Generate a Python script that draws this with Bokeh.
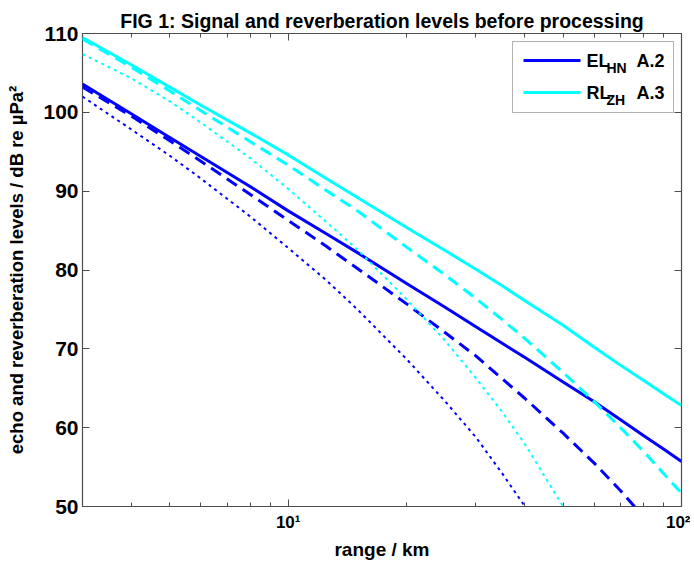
from bokeh.plotting import figure
from bokeh.models import Range1d, FixedTicker, LogAxis, LinearAxis, Label, BoxAnnotation
from bokeh.embed import file_html
from bokeh.resources import INLINE

# ---- data ----
range_km = [3, 4, 5, 6, 8, 10, 12.5, 15, 20, 25, 30, 35, 40, 50, 60, 70, 80, 90, 100]
el_solid = [103.6, 99.8, 96.8, 94.4, 90.6, 87.5, 84.6, 82.2, 78.3, 75.3, 72.8, 70.7, 68.9,
            65.8, 63.3, 61.0, 59.0, 57.3, 55.7]
el_dashed = [103.2, 99.5, 96.4, 93.8, 89.6, 86.3, 83.0, 80.2, 75.7, 72.1, 69.1, 66.2, 63.7,
             59.3, 55.5, 52.0, 48.7]
el_dotted = [102.0, 97.8, 94.5, 91.6, 86.8, 82.8, 78.7, 75.0, 68.7, 63.4, 58.8, 54.2, 50.0]
rl_solid = [109.5, 106.0, 103.2, 100.9, 97.4, 94.6, 91.6, 89.2, 85.4, 82.5, 80.1, 78.0, 76.1,
            73.0, 70.2, 67.9, 66.0, 64.3, 62.8]
rl_dashed = [109.3, 105.7, 102.7, 100.2, 96.3, 93.3, 90.1, 87.5, 82.9, 79.4, 76.4, 73.7, 71.3,
             67.0, 63.3, 60.0, 57.0, 54.2, 51.7]
rl_dotted = [107.4, 104.3, 101.4, 98.7, 94.2, 90.3, 86.1, 82.6, 76.3, 71.1, 66.3, 62.0, 57.9, 50.0]

x_major = [10, 100]
x_minor = [4, 5, 6, 7, 8, 9, 20, 30, 40, 50, 60, 70, 80, 90]
y_ticks = [50, 60, 70, 80, 90, 100, 110]
x_labels = {10: "10\u00b9", 100: "10\u00b2"}

BLUE = "#0000ff"
CYAN = "#00ffff"
FONT = "Liberation Sans"
AXC = "#4d4d4d"

p = figure(width=690, height=562, x_axis_type="log",
           x_range=Range1d(3, 100), y_range=Range1d(50, 110),
           output_backend="svg", toolbar_location=None,
           min_border_left=82, min_border_right=9, min_border_top=33, min_border_bottom=55)
p.background_fill_color = "white"
p.border_fill_color = "white"
p.outline_line_color = AXC
p.outline_line_width = 1.2
p.grid.visible = False

p.title.text = "FIG 1: Signal and reverberation levels before processing"
p.title.text_font = FONT
p.title.text_font_size = "19.5px"
p.title.text_font_style = "bold"
p.title.text_color = "black"
p.title.align = "center"
p.title.standoff = 4

def style_axis(ax, size="21px"):
    ax.axis_line_color = None
    ax.major_tick_line_color = AXC
    ax.minor_tick_line_color = AXC
    ax.major_tick_in = 7
    ax.major_tick_out = 0
    ax.minor_tick_in = 4
    ax.minor_tick_out = 0
    ax.major_label_text_font = FONT
    ax.major_label_text_font_style = "bold"
    ax.major_label_text_color = "black"
    ax.axis_label_text_font = FONT
    ax.axis_label_text_font_style = "bold"
    ax.axis_label_text_color = "black"
    ax.axis_label_text_font_size = "19px"
    if size:
        ax.major_label_text_font_size = size
    else:
        ax.major_label_text_font_size = "1px"
        ax.major_label_text_alpha = 0
        ax.major_label_standoff = 0

xa = p.xaxis[0]
xa.ticker = FixedTicker(ticks=x_major, minor_ticks=x_minor)
xa.major_label_overrides = x_labels
xa.axis_label = "range / km"
style_axis(xa, "17px")
xa.major_label_standoff = 6
xa.axis_label_standoff = 4

ya = p.yaxis[0]
ya.ticker = FixedTicker(ticks=y_ticks, minor_ticks=[])
ya.axis_label = "echo and reverberation levels / dB re \u00b5Pa\u00b2"
style_axis(ya, "21px")
ya.axis_label_text_font_size = "18.5px"
ya.major_label_standoff = 4
ya.axis_label_standoff = 13

top = LogAxis(ticker=FixedTicker(ticks=x_major, minor_ticks=x_minor))
style_axis(top, None)
p.add_layout(top, "above")
right = LinearAxis(ticker=FixedTicker(ticks=y_ticks, minor_ticks=[]))
style_axis(right, None)
p.add_layout(right, "right")

# ---- curves ----
def draw(xs, ys, color, width, dash="solid"):
    p.line(xs[:len(ys)], ys, line_color=color, line_width=width, line_dash=dash,
           line_join="round")

draw(range_km, el_solid, BLUE, 3)
draw(range_km, el_dashed, BLUE, 3, "12 7")
draw(range_km, el_dotted, BLUE, 2, "3 4")
draw(range_km, rl_solid, CYAN, 3)
draw(range_km, rl_dashed, CYAN, 3, "12 7")
draw(range_km, rl_dotted, CYAN, 2, "3 4")

# ---- legend (screen units, relative to the frame) ----
p.add_layout(BoxAnnotation(left=430, right=591, bottom=394, top=465,
                           left_units="screen", right_units="screen",
                           top_units="screen", bottom_units="screen",
                           fill_color="white", fill_alpha=1.0,
                           line_color="black", line_width=1))
legend_rows = [("EL", "HN", "A.2", BLUE, 446), ("RL", "ZH", "A.3", CYAN, 414)]
for main, sub, tail, col, yy in legend_rows:
    p.add_layout(BoxAnnotation(left=441, right=498, bottom=yy - 1.5, top=yy + 1.5,
                               left_units="screen", right_units="screen",
                               top_units="screen", bottom_units="screen",
                               fill_color=col, fill_alpha=1.0, line_color=None))
    p.add_layout(Label(x=504, y=yy, x_units="screen", y_units="screen", text=main,
                       text_font=FONT, text_font_style="bold", text_font_size="18px",
                       text_baseline="middle", text_align="left", text_color="black"))
    p.add_layout(Label(x=524, y=yy - 7, x_units="screen", y_units="screen", text=sub,
                       text_font=FONT, text_font_style="bold", text_font_size="14px",
                       text_baseline="middle", text_align="left", text_color="black"))
    p.add_layout(Label(x=554, y=yy, x_units="screen", y_units="screen", text=tail,
                       text_font=FONT, text_font_style="bold", text_font_size="18px",
                       text_baseline="middle", text_align="left", text_color="black"))

open("out.html", "w").write(file_html(p, INLINE))
